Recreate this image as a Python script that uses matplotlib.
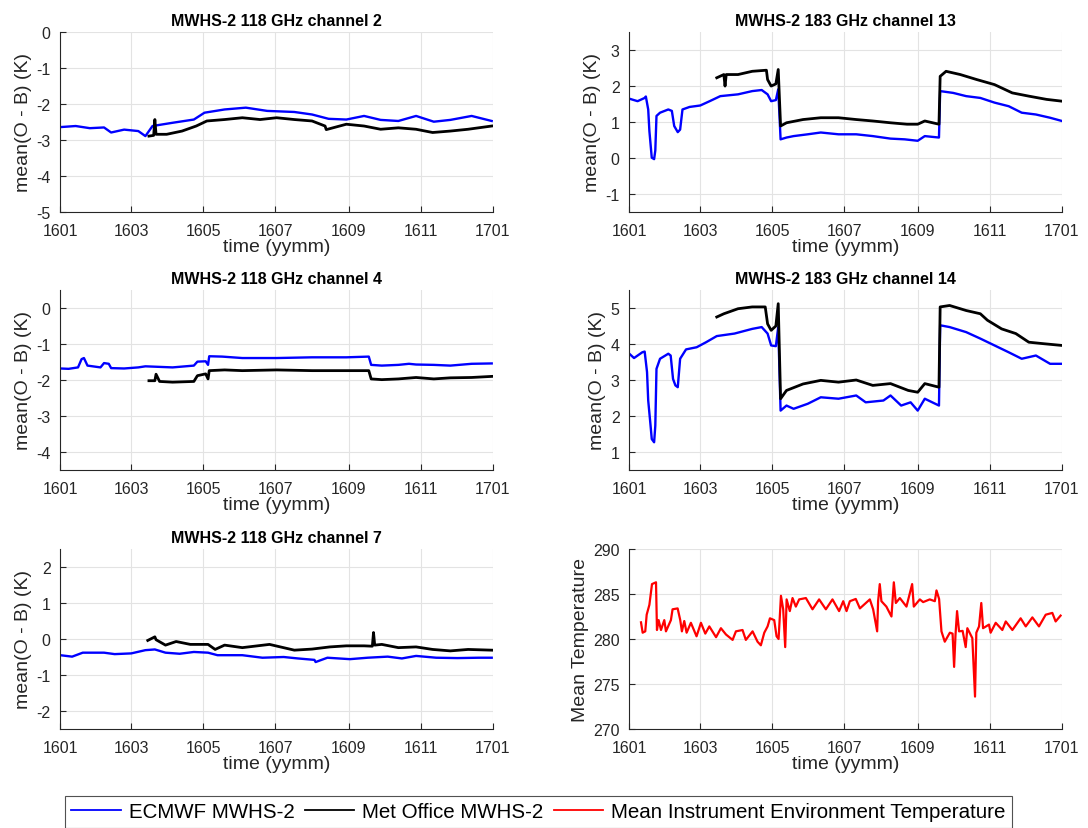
import numpy as np
import matplotlib
matplotlib.use('Agg')
import matplotlib.pyplot as plt
from matplotlib.lines import Line2D

plt.rcParams['font.family'] = ['Liberation Sans', 'DejaVu Sans']

# x values are days since 2016-01-01
tick_days = [0, 60, 121, 182, 244, 305, 366]
tick_labels = ['1601', '1603', '1605', '1607', '1609', '1611', '1701']

# channel 2
ch2_ec_x = [0, 13, 25, 37, 43, 54, 66, 72, 78, 95, 113, 122, 139, 157, 175, 198, 213, 227, 242, 257, 271, 286, 301, 316, 330, 348, 365]
ch2_ec_y = [-2.65, -2.62, -2.68, -2.66, -2.8, -2.72, -2.76, -2.9, -2.62, -2.53, -2.44, -2.25, -2.16, -2.11, -2.2, -2.23, -2.3, -2.42, -2.44, -2.34, -2.45, -2.48, -2.34, -2.5, -2.45, -2.34, -2.48]
ch2_mo_x = [75, 79, 80, 81, 90, 103, 115, 124, 139, 154, 169, 183, 198, 213, 224, 225, 242, 257, 271, 286, 301, 315, 330, 345, 365]
ch2_mo_y = [-2.9, -2.88, -2.44, -2.85, -2.85, -2.76, -2.62, -2.48, -2.44, -2.39, -2.44, -2.39, -2.44, -2.48, -2.62, -2.72, -2.57, -2.62, -2.71, -2.67, -2.71, -2.8, -2.76, -2.71, -2.62]

# channel 4
ch4_ec_x = [0, 7, 15, 18, 20, 23, 34, 37, 41, 43, 54, 66, 72, 95, 113, 116, 123, 125, 126, 137, 154, 183, 213, 242, 261, 263, 272, 286, 295, 301, 316, 330, 348, 365]
ch4_ec_y = [-1.68, -1.69, -1.65, -1.42, -1.39, -1.6, -1.65, -1.53, -1.55, -1.67, -1.68, -1.65, -1.62, -1.65, -1.6, -1.49, -1.48, -1.58, -1.34, -1.35, -1.39, -1.39, -1.37, -1.37, -1.35, -1.58, -1.6, -1.58, -1.55, -1.57, -1.58, -1.6, -1.55, -1.54]
ch4_mo_x = [75, 80, 81, 84, 95, 113, 116, 123, 125, 126, 139, 154, 183, 213, 242, 261, 263, 272, 286, 301, 316, 330, 348, 365]
ch4_mo_y = [-2.02, -2.02, -1.84, -2.04, -2.06, -2.04, -1.88, -1.83, -1.97, -1.74, -1.72, -1.74, -1.72, -1.74, -1.74, -1.74, -1.97, -1.99, -1.97, -1.93, -1.97, -1.94, -1.93, -1.9]

# channel 7
ch7_ec_x = [0, 10, 19, 37, 46, 60, 72, 80, 89, 101, 113, 125, 133, 154, 171, 189, 201, 215, 216, 226, 245, 260, 277, 289, 301, 318, 336, 354, 365]
ch7_ec_y = [-0.45, -0.49, -0.38, -0.38, -0.42, -0.4, -0.31, -0.29, -0.38, -0.41, -0.36, -0.38, -0.45, -0.45, -0.52, -0.5, -0.54, -0.58, -0.64, -0.52, -0.56, -0.52, -0.49, -0.54, -0.47, -0.52, -0.53, -0.52, -0.52]
ch7_mo_x = [74, 80, 81, 89, 98, 110, 125, 131, 139, 154, 177, 198, 213, 228, 242, 257, 264, 265, 266, 272, 286, 301, 315, 330, 345, 365]
ch7_mo_y = [-0.04, 0.06, -0.02, -0.17, -0.07, -0.15, -0.15, -0.29, -0.17, -0.24, -0.15, -0.31, -0.28, -0.22, -0.19, -0.19, -0.2, 0.18, -0.17, -0.15, -0.24, -0.22, -0.29, -0.33, -0.29, -0.31]

# channel 13
ch13_ec_x = [0, 7, 13, 14, 16, 17, 19, 21, 22, 23, 26, 33, 36, 38, 41, 43, 45, 51, 60, 68, 77, 92, 104, 112, 117, 120, 124, 126, 128, 133, 139, 151, 162, 177, 192, 206, 221, 233, 244, 250, 262, 263, 274, 285, 297, 309, 321, 332, 344, 356, 366]
ch13_ec_y = [1.64, 1.57, 1.66, 1.7, 1.34, 0.74, 0.0, -0.04, 0.2, 1.16, 1.25, 1.34, 1.3, 0.88, 0.71, 0.78, 1.34, 1.41, 1.45, 1.57, 1.71, 1.76, 1.85, 1.88, 1.76, 1.57, 1.6, 1.9, 0.51, 0.56, 0.6, 0.65, 0.7, 0.65, 0.65, 0.6, 0.53, 0.51, 0.47, 0.6, 0.56, 1.85, 1.8, 1.71, 1.66, 1.53, 1.43, 1.25, 1.2, 1.11, 1.02]
ch13_mo_x = [74, 80, 81, 82, 92, 104, 116, 117, 120, 124, 126, 128, 133, 147, 162, 177, 192, 206, 221, 235, 244, 250, 262, 263, 268, 280, 294, 309, 324, 338, 353, 366]
ch13_mo_y = [2.22, 2.31, 1.99, 2.31, 2.31, 2.4, 2.43, 2.17, 1.99, 2.05, 2.45, 0.88, 0.97, 1.06, 1.11, 1.11, 1.06, 1.02, 0.97, 0.93, 0.93, 1.02, 0.93, 2.26, 2.4, 2.31, 2.17, 2.03, 1.8, 1.71, 1.62, 1.57]

# channel 14
ch14_ec_x = [0, 4, 11, 13, 15, 16, 18, 19, 21, 22, 23, 26, 33, 35, 37, 39, 41, 43, 48, 57, 65, 74, 89, 104, 112, 117, 120, 124, 126, 128, 133, 139, 151, 162, 177, 192, 200, 215, 221, 230, 238, 244, 250, 262, 263, 271, 285, 297, 309, 321, 332, 344, 356, 366]
ch14_ec_y = [3.73, 3.61, 3.77, 3.79, 3.22, 2.43, 1.73, 1.36, 1.27, 1.73, 3.31, 3.59, 3.73, 3.68, 3.03, 2.85, 2.8, 3.59, 3.85, 3.91, 4.05, 4.22, 4.29, 4.42, 4.47, 4.29, 3.96, 3.94, 4.47, 2.15, 2.29, 2.2, 2.34, 2.52, 2.48, 2.57, 2.38, 2.43, 2.57, 2.29, 2.38, 2.15, 2.48, 2.29, 4.52, 4.47, 4.33, 4.15, 3.96, 3.77, 3.59, 3.68, 3.45, 3.45]
ch14_mo_x = [74, 80, 92, 104, 115, 117, 120, 124, 126, 128, 133, 147, 162, 177, 192, 206, 221, 236, 244, 250, 262, 263, 271, 285, 297, 303, 315, 327, 338, 350, 366]
ch14_mo_y = [4.75, 4.84, 4.98, 5.03, 5.03, 4.56, 4.38, 4.5, 5.12, 2.48, 2.71, 2.89, 2.99, 2.94, 3.0, 2.85, 2.9, 2.71, 2.66, 2.9, 2.8, 5.03, 5.07, 4.93, 4.84, 4.66, 4.42, 4.29, 4.05, 4.01, 3.96]

# instrument temperature
temp_x = [9.9, 11.3, 13.5, 14.7, 17, 19.2, 22.6, 23.4, 24.8, 26.8, 29.6, 31, 35.2, 36.6, 40.9, 43.1, 44.5, 46.5, 48.5, 52.1,
          56.9, 60.6, 64.3, 67.7, 73.4, 77.5, 81.8, 87.4, 90.2, 95.8, 98.6, 104.3, 108.5, 111.3, 114.2, 117, 119, 122.6, 124.6, 126.3,
          128.3, 130.2, 131.9, 133.1, 135.8, 138.1, 140.9, 143.7, 149.4, 155, 160.6, 166.3, 171.9, 177.5, 181, 183.8, 186.6, 191.6, 195.1, 203.5,
          206.3, 209.7, 210.5, 211.9, 213.3, 217.5, 221.8, 223.8, 225.5, 228.9, 234.5, 239.3, 240.7, 245.8, 248.6, 254.2, 258.5, 259.9, 262.1, 264.1,
          266.9, 271.2, 273.5, 274.8, 276, 277.3, 279, 282, 284.6, 286, 290.2, 292.5, 293.6, 295.9, 297.8, 299.3, 304.3, 305.7, 310, 315.6,
          318.5, 324.1, 331.1, 335.4, 341, 346.6, 352.3, 357.9, 360.7, 364.9]
temp_y = [281.85, 280.7, 280.85, 282.7, 283.8, 286.1, 286.3, 281.0, 282.1, 281.0, 282.1, 280.85, 282.1, 283.3, 283.4, 282.1, 280.85, 282.0, 280.7, 281.8,
          280.3, 281.8, 280.6, 281.4, 280.2, 281.2, 280.5, 279.9, 280.85, 281.0, 279.9, 280.85, 279.7, 279.3, 280.7, 281.4, 282.3, 282.1, 280.3, 280.0,
          284.8, 283.3, 279.1, 284.4, 283.1, 284.55, 283.6, 284.4, 284.55, 283.3, 284.4, 283.3, 284.4, 283.1, 284.2, 283.1, 284.2, 284.45, 283.4, 284.4,
          283.3, 280.85, 284.2, 286.1, 284.2, 283.6, 282.5, 286.3, 284.0, 284.55, 283.6, 286.1, 283.6, 284.4, 284.1, 284.4, 284.2, 285.4, 284.45, 280.85,
          279.7, 280.7, 280.6, 276.9, 280.5, 283.1, 280.85, 280.9, 279.1, 281.2, 280.1, 273.6, 280.7, 281.4, 284.0, 281.2, 281.6, 280.7, 281.8, 281.0,
          281.95, 281.0, 282.3, 281.4, 282.4, 281.4, 282.7, 282.9, 281.95, 282.6]

BLUE = '#0000ff'
BLACK = '#000000'
RED = '#ff0000'
AX = '#262626'

fig = plt.figure(figsize=(10.88, 8.29), dpi=100)

col_x = [60.3 / 1088, 629.3 / 1088]
row_b = [1 - 212.7 / 829, 1 - 471 / 829, 1 - 730 / 829]
w = 432.6 / 1088
h = 180 / 829


def style_axes(ax, ylim, yticks, ylabel, title=None):
    ax.set_xlim(0, 366)
    ax.set_ylim(*ylim)
    ax.set_xticks(tick_days)
    ax.set_xticklabels(tick_labels)
    ax.set_yticks(yticks)
    ax.set_yticklabels([('%g' % t) for t in yticks])
    ax.grid(True, color='#e3e3e3', linewidth=0.8)
    ax.set_axisbelow(True)
    for s in ['top', 'right']:
        ax.spines[s].set_visible(False)
    for s in ['left', 'bottom']:
        ax.spines[s].set_color(AX)
        ax.spines[s].set_linewidth(0.8)
    ax.tick_params(direction='in', length=4, colors=AX, labelsize=11.5)
    ax.tick_params(axis='x', pad=8)
    ax.tick_params(axis='y', pad=7)
    ax.set_xlabel('time (yymm)', fontsize=14, color=AX, labelpad=0)
    ax.set_ylabel(ylabel, fontsize=14, color=AX, labelpad=3)
    if title:
        ax.set_title(title, fontsize=11.5, fontweight='bold', pad=5)


panels = [
    (0, 0, 'MWHS-2 118 GHz channel 2', ch2_ec_x, ch2_ec_y, ch2_mo_x, ch2_mo_y, (-5, 0), [-5, -4, -3, -2, -1, 0]),
    (1, 0, 'MWHS-2 183 GHz channel 13', ch13_ec_x, ch13_ec_y, ch13_mo_x, ch13_mo_y, (-1.5, 3.5), [-1, 0, 1, 2, 3]),
    (0, 1, 'MWHS-2 118 GHz channel 4', ch4_ec_x, ch4_ec_y, ch4_mo_x, ch4_mo_y, (-4.5, 0.5), [-4, -3, -2, -1, 0]),
    (1, 1, 'MWHS-2 183 GHz channel 14', ch14_ec_x, ch14_ec_y, ch14_mo_x, ch14_mo_y, (0.5, 5.5), [1, 2, 3, 4, 5]),
    (0, 2, 'MWHS-2 118 GHz channel 7', ch7_ec_x, ch7_ec_y, ch7_mo_x, ch7_mo_y, (-2.5, 2.5), [-2, -1, 0, 1, 2]),
]

for c, r, title, ex, ey, mx, my, ylim, yt in panels:
    ax = fig.add_axes([col_x[c], row_b[r], w, h])
    ax.plot(ex, ey, color=BLUE, linewidth=1.7)
    ax.plot(mx, my, color=BLACK, linewidth=2.0)
    style_axes(ax, ylim, yt, 'mean(O - B) (K)', title)

ax = fig.add_axes([col_x[1], row_b[2], w, h])
ax.plot(temp_x, temp_y, color=RED, linewidth=1.6)
style_axes(ax, (270, 290), [270, 275, 280, 285, 290], 'Mean Temperature')

handles = [Line2D([], [], color=BLUE, linewidth=1.3),
           Line2D([], [], color=BLACK, linewidth=1.3),
           Line2D([], [], color=RED, linewidth=1.3)]
labels = ['ECMWF MWHS-2', 'Met Office MWHS-2', 'Mean Instrument Environment Temperature']
leg = fig.legend(handles, labels, loc='center', bbox_to_anchor=(538.5 / 1088, 1 - 813 / 829),
                 ncol=3, fontsize=14.8, frameon=True, fancybox=False, handlelength=2.4,
                 columnspacing=0.5, handletextpad=0.4, borderpad=0.3, borderaxespad=0)
leg.get_frame().set_edgecolor(AX)
leg.get_frame().set_linewidth(0.8)

fig.savefig('out.png', dpi=100)
